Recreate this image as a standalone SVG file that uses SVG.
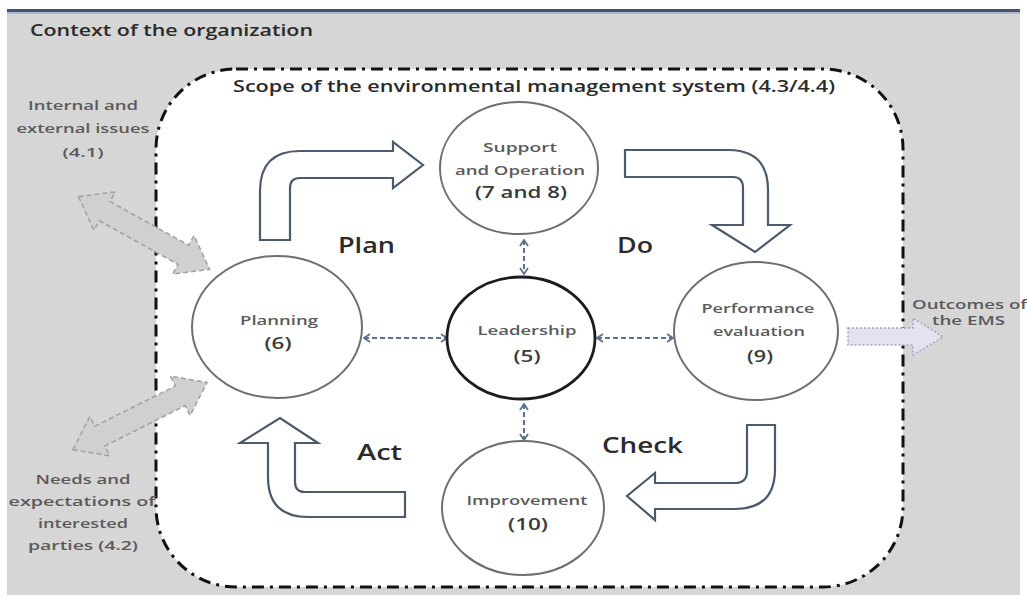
<svg xmlns="http://www.w3.org/2000/svg" width="1027" height="596" viewBox="0 0 1027 596">
<style>
.lbl{font-family:"Open Sans","Liberation Sans",sans-serif;fill:#5a5a5a;font-size:13px;font-weight:600;text-anchor:middle}
.num{font-family:"Open Sans","Liberation Sans",sans-serif;fill:#3a3a3a;font-size:17px;font-weight:600;text-anchor:middle}
.ctx{font-family:"Open Sans","Liberation Sans",sans-serif;fill:#5a5a5a;font-size:13px;font-weight:600;text-anchor:middle}
.pdca{font-family:"Open Sans","Liberation Sans",sans-serif;fill:#2b2b2b;font-size:22px;font-weight:600}
.title{font-family:"Open Sans","Liberation Sans",sans-serif;fill:#2b2b2b;font-size:16px;font-weight:600}
.circ{fill:#fff;stroke:#6f6f6f;stroke-width:2}
.blk{fill:#fff;stroke:#4b5a6c;stroke-width:2.2;stroke-linejoin:miter}
.dbl{fill:#d0d0d0;stroke:#a0a0a0;stroke-width:1.5;stroke-dasharray:5 3}
.conn{stroke:#5d7191;stroke-width:2;stroke-dasharray:5 3;fill:none}
</style>
<defs>
<marker id="chev" viewBox="0 0 8 10" refX="7" refY="5" markerWidth="8" markerHeight="10" markerUnits="userSpaceOnUse" orient="auto-start-reverse">
<path d="M1,1 L7,5 L1,9" fill="none" stroke="#5d7191" stroke-width="1.8"/>
</marker>
</defs>
<rect x="7" y="12" width="1013" height="583" fill="#d6d6d6"/>
<rect x="7" y="9" width="1013" height="3" fill="#465573"/>
<rect x="7" y="12" width="1013" height="2" fill="#aeb8cc"/>
<text class="title" x="30" y="36" textLength="283" lengthAdjust="spacingAndGlyphs">Context of the organization</text>
<rect id="scope" x="156" y="69" width="747" height="518" rx="80" ry="80" fill="#fff" stroke="#111" stroke-width="3" stroke-dasharray="12 6 3 6"/>
<text class="title" x="233" y="92" textLength="602" lengthAdjust="spacingAndGlyphs">Scope of the environmental management system (4.3/4.4)</text>

<g id="issues">
<text class="ctx" x="83" y="110" textLength="110" lengthAdjust="spacingAndGlyphs">Internal and</text>
<text class="ctx" x="83" y="133" textLength="133" lengthAdjust="spacingAndGlyphs">external issues</text>
<text class="ctx" x="83" y="157" textLength="41" lengthAdjust="spacingAndGlyphs">(4.1)</text>
</g>
<g id="needs">
<text class="ctx" x="83" y="484" textLength="95" lengthAdjust="spacingAndGlyphs">Needs and</text>
<text class="ctx" x="82" y="506" textLength="147" lengthAdjust="spacingAndGlyphs">expectations of</text>
<text class="ctx" x="83" y="528" textLength="90" lengthAdjust="spacingAndGlyphs">interested</text>
<text class="ctx" x="83" y="550" textLength="110" lengthAdjust="spacingAndGlyphs">parties (4.2)</text>
</g>
<g id="outcomes">
<text class="ctx" x="912" y="309" style="text-anchor:start" textLength="115" lengthAdjust="spacingAndGlyphs">Outcomes of</text>
<text class="ctx" x="932" y="325" style="text-anchor:start" textLength="73" lengthAdjust="spacingAndGlyphs">the EMS</text>
</g>

<g id="connectors">
<polygon class="dbl" transform="translate(144,233) rotate(29)" points="-75,0 -45,-22 -45,-11 45,-11 45,-22 75,0 45,22 45,11 -45,11 -45,22"/>
<polygon class="dbl" transform="translate(140,416) rotate(-26.6)" points="-75,0 -45,-22 -45,-11 45,-11 45,-22 75,0 45,22 45,11 -45,11 -45,22"/>
<polygon points="848,328 913,328 913,318 943,337 913,355 913,345 848,345" fill="#e3e3ef" stroke="#a4a4c4" stroke-width="1.5" stroke-dasharray="2 2"/>
<path class="blk" d="M260,240 L260,191 Q260,151 300,151 L393,151 L393,142 L423,165 L393,188 L393,178 L300,178 Q290,178 290,188 L290,240 Z"/>
<path class="blk" d="M625,150 L728,150 Q768,150 768,190 L768,225 L790,225 L755,252 L712,225 L743,225 L743,188 Q743,177 733,177 L625,177 Z"/>
<path class="blk" d="M747,425 L775,425 L775,469 Q775,509 735,509 L655,509 L655,520 L627,496 L655,473 L655,483 L735,483 Q747,483 747,471 Z"/>
<path class="blk" d="M405,492 L405,517 L308,517 Q268,517 268,477 L268,443 L240,443 L280,418 L318,443 L295,443 L295,482 Q295,492 305,492 Z"/>
<line class="conn" x1="524" y1="240" x2="524" y2="274" marker-start="url(#chev)" marker-end="url(#chev)"/>
<line class="conn" x1="524" y1="404" x2="524" y2="440" marker-start="url(#chev)" marker-end="url(#chev)"/>
<line class="conn" x1="364" y1="338" x2="447" y2="338" marker-start="url(#chev)" marker-end="url(#chev)"/>
<line class="conn" x1="597" y1="338" x2="673" y2="338" marker-start="url(#chev)" marker-end="url(#chev)"/>
</g>

<g id="labels">
<text class="pdca" x="338" y="253" textLength="57" lengthAdjust="spacingAndGlyphs">Plan</text>
<text class="pdca" x="617" y="253" textLength="36" lengthAdjust="spacingAndGlyphs">Do</text>
<text class="pdca" x="357" y="460" textLength="45" lengthAdjust="spacingAndGlyphs">Act</text>
<text class="pdca" x="602" y="453" textLength="81" lengthAdjust="spacingAndGlyphs">Check</text>
</g>

<g id="support">
<ellipse class="circ" cx="519" cy="168" rx="79" ry="66"/>
<text class="lbl" x="520" y="152" textLength="74" lengthAdjust="spacingAndGlyphs">Support</text>
<text class="lbl" x="520" y="175" textLength="130" lengthAdjust="spacingAndGlyphs">and Operation</text>
<text class="num" x="521" y="198" textLength="92" lengthAdjust="spacingAndGlyphs">(7 and 8)</text>
</g>
<g id="planning">
<ellipse class="circ" cx="277" cy="327" rx="85" ry="71"/>
<text class="lbl" x="279" y="325" textLength="78" lengthAdjust="spacingAndGlyphs">Planning</text>
<text class="num" x="278" y="349" textLength="27" lengthAdjust="spacingAndGlyphs">(6)</text>
</g>
<g id="leadership">
<ellipse cx="521" cy="338" rx="74" ry="61" fill="#fff" stroke="#1c1c1c" stroke-width="2.8"/>
<text class="lbl" x="527" y="335" textLength="99" lengthAdjust="spacingAndGlyphs">Leadership</text>
<text class="num" x="527" y="362" textLength="27" lengthAdjust="spacingAndGlyphs">(5)</text>
</g>
<g id="performance">
<ellipse class="circ" cx="756" cy="331" rx="82" ry="69"/>
<text class="lbl" x="758" y="313" textLength="113" lengthAdjust="spacingAndGlyphs">Performance</text>
<text class="lbl" x="759" y="336" textLength="92" lengthAdjust="spacingAndGlyphs">evaluation</text>
<text class="num" x="760" y="362" textLength="26" lengthAdjust="spacingAndGlyphs">(9)</text>
</g>
<g id="improvement">
<ellipse class="circ" cx="523" cy="508" rx="81" ry="67"/>
<text class="lbl" x="527" y="505" textLength="121" lengthAdjust="spacingAndGlyphs">Improvement</text>
<text class="num" x="528" y="530" textLength="40" lengthAdjust="spacingAndGlyphs">(10)</text>
</g>
</svg>
